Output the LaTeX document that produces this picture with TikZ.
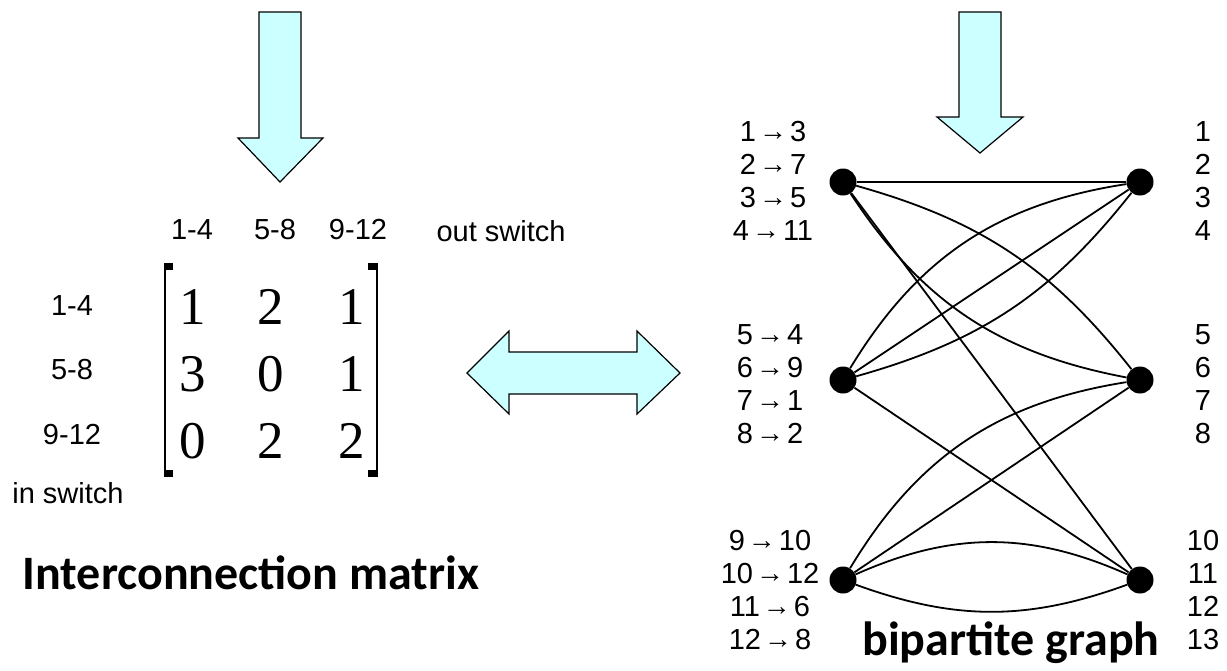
\documentclass[tikz,border=0pt]{standalone}
\usepackage{fontspec}
\setmainfont{Liberation Sans}
\newfontfamily\entryfont{Liberation Serif}
\newfontfamily\titlefont{Carlito}
\usepackage{tikz}
\usetikzlibrary{arrows.meta,positioning}
\definecolor{arrowcyan}{HTML}{CCFFFF}
\newcommand\mapto{\kern3pt\raisebox{1pt}{\fontsize{28}{28}\selectfont→}\kern3pt}

\begin{document}
\begin{tikzpicture}[x=1pt,y=-1pt,every node/.style={font=\fontsize{29}{33}\selectfont,inner sep=0pt},
  blk/.style={draw=black,fill=arrowcyan,line width=1.2pt,line join=miter},
  ent/.style={font=\entryfont\fontsize{53}{53}\selectfont},
  ttl/.style={font=\titlefont\bfseries\fontsize{48}{48}\selectfont},
  dot/.style={circle,fill=black,minimum size=27pt},
  e/.style={draw=black,line width=1.8pt}]
\useasboundingbox (0,0) rectangle (1227,670);
% block arrows
\draw[blk] (259,12)--(301,12)--(301,138)--(323,138)--(280,182)--(238,138)--(259,138)--cycle;
\draw[blk] (959,12)--(1001,12)--(1001,117)--(1023,117)--(980,153)--(937,117)--(959,117)--cycle;
\draw[blk] (467,373)--(509,331)--(509,352)--(637,352)--(637,331)--(680,373)--(637,414)--(637,394)--(509,394)--(509,414)--cycle;
% matrix
\node (c1) at (192,230) {1-4};\node (c2) at (275,230) {5-8};\node (c3) at (358,230) {9-12};\node (outsw) at (501,231) {out switch};
\node (r1) at (72,306) {1-4};\node (r2) at (72,370) {5-8};\node (r3) at (72,435) {9-12};\node (insw) at (68,493) {in switch};
\node[ent] (m11) at (193,307) {1};\node[ent] (m12) at (271,307) {2};\node[ent] (m13) at (352,307) {1};
\node[ent] (m21) at (193,374) {3};\node[ent] (m22) at (271,374) {0};\node[ent] (m23) at (352,374) {1};
\node[ent] (m31) at (193,441) {0};\node[ent] (m32) at (271,441) {2};\node[ent] (m33) at (352,441) {2};
\draw[line width=2pt] (164.5,263)--(164.5,477);\fill (163.5,263) rectangle (173,270);\fill (163.5,470) rectangle (173,477);
\draw[line width=2pt] (377,263)--(377,477);\fill (368,263) rectangle (378,270);\fill (368,470) rectangle (378,477);
\node[ttl] (mtitle) at (251,573) {Interconnection matrix};
% bipartite graph
\node[dot] (l1) at (843,182) {};\node[dot] (l2) at (843,380) {};\node[dot] (l3) at (843,580) {};
\node[dot] (o1) at (1140,182) {};\node[dot] (o2) at (1140,380) {};\node[dot] (o3) at (1140,580) {};
\node[align=center] (in1) at (773,181) {1\mapto3\\2\mapto7\\3\mapto5\\4\mapto11};
\node[align=center] (in2) at (770,384) {5\mapto4\\6\mapto9\\7\mapto1\\8\mapto2};
\node[align=center] (in3) at (770,590) {9\mapto10\\10\mapto12\\11\mapto6\\12\mapto8};
\node[align=center] (out1) at (1203,181) {1\\2\\3\\4};\node[align=center] (out2) at (1203,384) {5\\6\\7\\8};
\node[align=center] (out3) at (1203,590) {10\\11\\12\\13};
\node[ttl] (gtitle) at (1011,643) {bipartite graph};
\draw[e] (l1)--(o1);\draw[e] (l1) to[bend left=18] (o2);\draw[e] (l1) to[bend right=23] (o2);\draw[e] (l1)--(o3);
\draw[e] (l2)--(o1);\draw[e] (l2) to[bend left=25] (o1);\draw[e] (l2) to[bend right=18] (o1);\draw[e] (l2)--(o3);
\draw[e] (l3)--(o2);\draw[e] (l3) to[bend left=25] (o2);
\draw[e] (l3) to[bend left=24] (o3);\draw[e] (l3) to[bend right=20] (o3);
\end{tikzpicture}
\end{document}
